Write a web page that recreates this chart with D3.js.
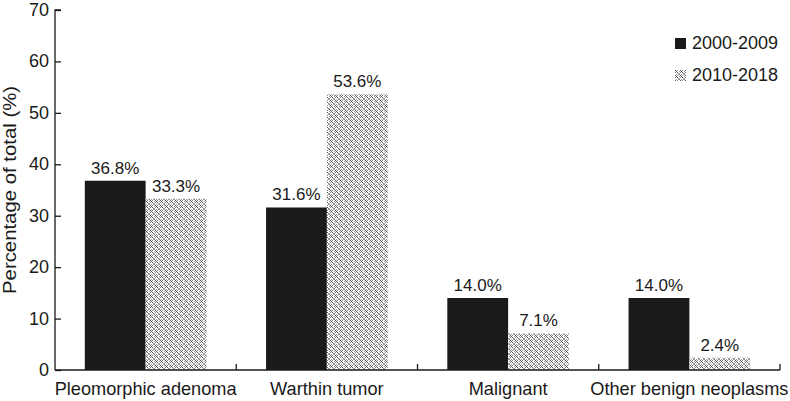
<!DOCTYPE html>
<html><head><meta charset="utf-8">
<script src="https://cdn.jsdelivr.net/npm/d3@7"></script>
<style>body{margin:0;background:#fff}text{font-family:"Liberation Sans",Arial,sans-serif;fill:#1a1a1a}</style>
</head><body><svg id="c" width="790" height="401"></svg>
<script>
const categories = ["Pleomorphic adenoma","Warthin tumor","Malignant","Other benign neoplasms"];
const seriesNames = ["2000-2009","2010-2018"];
const values2000 = [36.8, 31.6, 14.0, 14.0];
const values2010 = [33.3, 53.6, 7.1, 2.4];
const yTicks = [0,10,20,30,40,50,60,70];

const svg = d3.select("#c");
const x0 = 55, x1 = 780, y0 = 370, y1 = 10;

const defs = svg.append("defs");
const pat = defs.append("pattern").attr("id","hatch").attr("patternUnits","userSpaceOnUse")
  .attr("width",5).attr("height",5);
pat.append("rect").attr("width",5).attr("height",5).attr("fill","#ffffff");
const px = [[0,0,"#555"],[2,0,"#888"],[1,1,"#555"],[0,2,"#888"],[2,2,"#555"],[3,3,"#888"],[4,4,"#888"],[3,4,"#aaa"],[4,3,"#aaa"],[4,1,"#999"],[1,4,"#999"]];
px.forEach(([a,b,c])=>pat.append("rect").attr("x",a).attr("y",b).attr("width",1).attr("height",1).attr("fill",c));

const x = d3.scaleBand().domain(categories).range([x0, x1]).paddingInner(0).paddingOuter(0);
const xs = d3.scaleBand().domain(seriesNames).range([0, x.bandwidth()]).paddingOuter(0.49).paddingInner(0);
const y = d3.scaleLinear().domain([0,70]).range([y0, y1]);

const data = categories.map((c,i)=>({c, vals:[values2000[i], values2010[i]]}));
const fills = ["#1a1a1a","url(#hatch)"];

const g = svg.append("g");
data.forEach(d=>{
  d.vals.forEach((v,j)=>{
    const bx = x(d.c)+xs(seriesNames[j]);
    g.append("rect").attr("x",bx).attr("y",y(v)).attr("width",xs.bandwidth()).attr("height",y(0)-y(v)).attr("fill",fills[j]);
    g.append("text").attr("x",bx+xs.bandwidth()/2).attr("y",y(v)-7).attr("text-anchor","middle")
      .attr("font-size",17).text(v.toFixed(1)+"%");
  });
});

// y axis
const ya = svg.append("g").attr("transform",`translate(${x0},0)`)
  .call(d3.axisRight(y).tickValues(yTicks).tickSize(6).tickFormat(""));
ya.select(".domain").attr("d",`M6,${y1}H0V${y0}`).attr("stroke","#1a1a1a").attr("stroke-width",1.3);
ya.selectAll("line").attr("stroke","#1a1a1a").attr("stroke-width",1.3);
svg.append("g").selectAll("text").data(yTicks).join("text")
  .attr("x",49).attr("y",d=>y(d)+6).attr("text-anchor","end").attr("font-size",18).text(d=>d);

// x axis
const xa = svg.append("g").attr("transform",`translate(0,${y0})`);
xa.append("line").attr("x1",x0).attr("x2",x1).attr("y1",0).attr("y2",0).attr("stroke","#1a1a1a").attr("stroke-width",1.3);
categories.forEach(c=>{
  const bx = x(c)+x.bandwidth();
  xa.append("line").attr("x1",bx).attr("x2",bx).attr("y1",0).attr("y2",-6).attr("stroke","#1a1a1a").attr("stroke-width",1.3);
  xa.append("text").attr("x",x(c)+x.bandwidth()/2).attr("y",25).attr("text-anchor","middle").attr("font-size",18.2).text(c);
});

svg.append("text").attr("transform",`translate(16,${(y0+y1)/2}) rotate(-90)`).attr("text-anchor","middle")
  .attr("font-size",18.5).attr("textLength",208).attr("lengthAdjust","spacingAndGlyphs").text("Percentage of total (%)");

// legend
const lg = svg.append("g");
seriesNames.forEach((s,i)=>{
  const ly = 43 + i*32;
  lg.append("rect").attr("x",675).attr("y",ly-5).attr("width",11).attr("height",11).attr("fill",fills[i]);
  lg.append("text").attr("x",692).attr("y",ly+6).attr("font-size",18).text(s);
});
</script></body></html>
